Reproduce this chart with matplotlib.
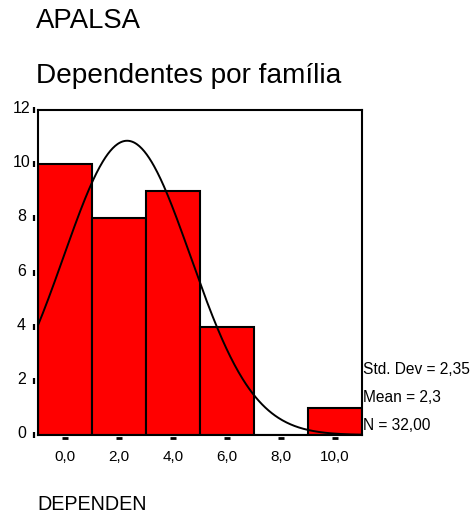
import numpy as np
import matplotlib
matplotlib.use("Agg")
import matplotlib.pyplot as plt
from matplotlib.transforms import blended_transform_factory, ScaledTranslation

# ---- data ----
bin_centers = [0, 2, 4, 6, 8, 10]
counts = [10, 8, 9, 4, 0, 1]
bin_width = 2
x_tick_values = [0, 2, 4, 6, 8, 10]
x_tick_labels = ["0,0", "2,0", "4,0", "6,0", "8,0", "10,0"]
y_tick_values = [0, 2, 4, 6, 8, 10, 12]
y_tick_labels = ["0", "2", "4", "6", "8", "10", "12"]
std_dev = 2.35
mean = 2.3
n_total = 32
stats_lines = ["Std. Dev = 2,35", "Mean = 2,3", "N = 32,00"]

plt.rcParams['font.family'] = ['Liberation Sans', 'DejaVu Sans']

W, H = 474, 516
fig = plt.figure(figsize=(W / 100, H / 100), dpi=100)
fig.patch.set_facecolor("white")

ax_l, ax_r, ax_t, ax_b = 38, 362, 110, 435
ax = fig.add_axes([ax_l / W, (H - ax_b) / H, (ax_r - ax_l) / W, (ax_b - ax_t) / H])
ax.set_xlim(-1, 11)
ax.set_ylim(0, 12)

ax.bar(bin_centers, counts, width=bin_width, color="#ff0000", edgecolor="black",
       linewidth=1.5, zorder=2)

xs = np.linspace(-1, 11, 400)
ys = n_total * bin_width * np.exp(-0.5 * ((xs - mean) / std_dev) ** 2) / (std_dev * np.sqrt(2 * np.pi))
ax.plot(xs, ys, color="black", linewidth=1.4, zorder=3)

for s in ax.spines.values():
    s.set_linewidth(1.5)
    s.set_color("black")
    s.set_zorder(4)

ax.set_xticks(x_tick_values)
ax.set_xticklabels(x_tick_labels, fontsize=11)
ax.set_yticks(y_tick_values)
ax.set_yticklabels(y_tick_labels, fontsize=11.5)
ax.tick_params(axis="x", length=0, pad=10.5)
ax.tick_params(axis="y", length=0, pad=12)
shift_up = ScaledTranslation(0, 3 / 100, fig.dpi_scale_trans)
for lab in ax.get_yticklabels():
    lab.set_horizontalalignment("center")
    lab.set_transform(lab.get_transform() + shift_up)

# SPSS-style tick marks
tr_y = blended_transform_factory(ax.transAxes, ax.transData)
ax.plot([-4 / (ax_r - ax_l)] * len(y_tick_values), y_tick_values, linestyle="none",
        marker="|", markersize=4, markeredgewidth=1.6, color="black",
        transform=tr_y, clip_on=False)
tr_x = blended_transform_factory(ax.transData, ax.transAxes)
ax.plot(x_tick_values, [-3 / (ax_b - ax_t)] * len(x_tick_values), linestyle="none",
        marker="_", markersize=5, markeredgewidth=2, color="black",
        transform=tr_x, clip_on=False)

# Titles
fig.text(36 / W, (H - 28) / H, "APALSA", fontsize=19.8, ha="left", va="baseline")
fig.text(36 / W, (H - 83) / H, "Dependentes por família", fontsize=20.2, ha="left", va="baseline")
fig.text(37 / W, (H - 510) / H, "DEPENDEN", fontsize=14.2, ha="left", va="baseline")

# Stats
for line, yc in zip(stats_lines, [370, 397, 425]):
    fig.text(363 / W, (H - yc) / H, line, fontsize=11.2, ha="left", va="center")

fig.savefig("out.png", dpi=100, facecolor="white")
